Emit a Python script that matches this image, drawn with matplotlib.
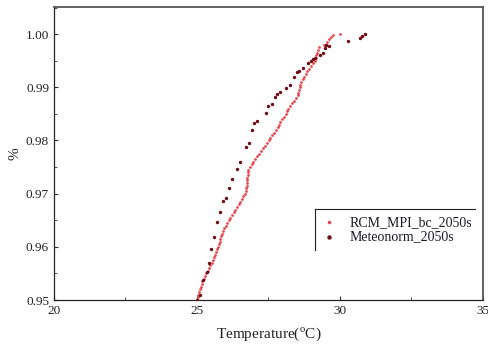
import matplotlib
matplotlib.use("Agg")
import matplotlib.pyplot as plt
from matplotlib.ticker import MultipleLocator
from matplotlib.lines import Line2D

# RCM_MPI_bc_2050s: probability and temperature
rcm_p = [0.9500, 0.9505, 0.9510, 0.9515, 0.9520, 0.9525, 0.9530, 0.9535, 0.9540, 0.9545,
         0.9550, 0.9555, 0.9560, 0.9565, 0.9570, 0.9575, 0.9580, 0.9585, 0.9590, 0.9595,
         0.9600, 0.9605, 0.9610, 0.9615, 0.9620, 0.9625, 0.9630, 0.9635, 0.9640, 0.9645,
         0.9650, 0.9655, 0.9660, 0.9665, 0.9670, 0.9675, 0.9680, 0.9685, 0.9690, 0.9695,
         0.9700, 0.9705, 0.9710, 0.9715, 0.9720, 0.9725, 0.9730, 0.9735, 0.9740, 0.9745,
         0.9750, 0.9755, 0.9760, 0.9765, 0.9770, 0.9775, 0.9780, 0.9785, 0.9790, 0.9795,
         0.9800, 0.9805, 0.9810, 0.9815, 0.9820, 0.9825, 0.9830, 0.9835, 0.9840, 0.9845,
         0.9850, 0.9855, 0.9860, 0.9865, 0.9870, 0.9875, 0.9880, 0.9885, 0.9890, 0.9895,
         0.9900, 0.9905, 0.9910, 0.9915, 0.9920, 0.9925, 0.9930, 0.9935, 0.9940, 0.9945,
         0.9950, 0.9955, 0.9960, 0.9965, 0.9970, 0.9975, 0.9980, 0.9985, 0.9990, 0.9995,
         0.9998, 1.0000]
rcm_t = [25.00, 25.03, 25.05, 25.08, 25.10, 25.13, 25.16, 25.19, 25.23, 25.28,
         25.32, 25.37, 25.42, 25.47, 25.51, 25.56, 25.60, 25.63, 25.67, 25.70,
         25.73, 25.76, 25.79, 25.81, 25.84, 25.87, 25.91, 25.96, 26.01, 26.06,
         26.11, 26.16, 26.22, 26.28, 26.34, 26.40, 26.46, 26.51, 26.56, 26.62,
         26.67, 26.70, 26.72, 26.74, 26.75, 26.76, 26.76, 26.77, 26.78, 26.80,
         26.86, 26.92, 26.97, 27.03, 27.09, 27.16, 27.23, 27.30, 27.37, 27.45,
         27.52, 27.57, 27.62, 27.69, 27.76, 27.82, 27.86, 27.90, 27.97, 28.04,
         28.10, 28.14, 28.19, 28.25, 28.32, 28.41, 28.48, 28.53, 28.55, 28.57,
         28.59, 28.61, 28.65, 28.70, 28.74, 28.80, 28.86, 28.92, 28.99, 29.05,
         29.12, 29.15, 29.18, 29.20, 29.23, 29.26, 29.43, 29.55, 29.61, 29.68,
         29.76, 30.00]

# Meteonorm_2050s
met_p = [0.9500, 0.9509, 0.9538, 0.9553, 0.9570, 0.9596, 0.9618, 0.9647, 0.9665, 0.9687,
         0.9692, 0.9711, 0.9727, 0.9746, 0.9760, 0.9788, 0.9796, 0.9820, 0.9832, 0.9837,
         0.9851, 0.9865, 0.9868, 0.9882, 0.9887, 0.9892, 0.9898, 0.9904, 0.9919, 0.9929,
         0.9931, 0.9937, 0.9946, 0.9949, 0.9954, 0.9956, 0.9961, 0.9965, 0.9973, 0.9979,
         0.9977, 0.9987, 0.9992, 0.9996, 1.0000]
met_t = [24.99, 25.10, 25.20, 25.34, 25.42, 25.49, 25.60, 25.69, 25.80, 25.92,
         26.00, 26.12, 26.21, 26.41, 26.50, 26.70, 26.82, 26.91, 26.99, 27.11,
         27.41, 27.49, 27.61, 27.72, 27.81, 27.90, 28.11, 28.25, 28.40, 28.51,
         28.58, 28.70, 28.89, 28.98, 29.05, 29.13, 29.30, 29.42, 29.48, 29.53,
         29.62, 30.29, 30.70, 30.79, 30.87]

plt.rcParams['font.family'] = ['Liberation Serif', 'DejaVu Serif']
plt.rcParams['mathtext.fontset'] = 'custom'
plt.rcParams['mathtext.rm'] = 'Liberation Serif'

fig = plt.figure(figsize=(4.89, 3.47), dpi=100)
ax = fig.add_axes([0.1104, 0.1354, 0.877, 0.8444])

ax.scatter(rcm_t, rcm_p, s=4, color='#e8464c', linewidths=0, label='RCM_MPI_bc_2050s', zorder=3)
ax.scatter(met_t, met_p, s=6, color='#6e0b14', linewidths=0, label='Meteonorm_2050s', zorder=4)

ax.set_xlim(20, 35)
ax.set_ylim(0.95, 1.0051)
ax.xaxis.set_major_locator(MultipleLocator(5))
ax.xaxis.set_minor_locator(MultipleLocator(2.5))
ax.yaxis.set_major_locator(MultipleLocator(0.01))
ax.yaxis.set_minor_locator(MultipleLocator(0.005))
ax.yaxis.set_major_formatter(plt.FormatStrFormatter('%.2f'))
ax.tick_params(which='both', direction='in', labelsize=9.5, colors='#333333', labelcolor='#222222')
ax.tick_params(which='major', length=3)
ax.tick_params(which='minor', length=2)
for side in ['left', 'bottom']:
    ax.spines[side].set_color('#222222')
    ax.spines[side].set_linewidth(0.9)
for side in ['top', 'right']:
    ax.spines[side].set_color('#555555')
    ax.spines[side].set_linewidth(1.3)

ax.set_xlabel('Temperature($^{\\rm o}$C)', fontsize=11, color='#222222', labelpad=6)
ax.set_ylabel('%', fontsize=11, color='#222222', labelpad=3)

leg = ax.legend(loc='upper left', bbox_to_anchor=(0.608, 0.31), fontsize=10,
                frameon=False, markerscale=1.3, handlelength=1.0,
                handletextpad=1.0, borderpad=0.0, labelspacing=0.1)
for t in leg.get_texts():
    t.set_color('#1a1a2a')

# partial legend frame (top and left edges, as in the reference)
ax.add_line(Line2D([0.608, 0.981], [0.3106, 0.3106], transform=ax.transAxes,
                   color='#222222', lw=0.8, zorder=5))
ax.add_line(Line2D([0.608, 0.608], [0.3106, 0.171], transform=ax.transAxes,
                   color='#222222', lw=0.8, zorder=5))

fig.savefig('out.png', dpi=100)
